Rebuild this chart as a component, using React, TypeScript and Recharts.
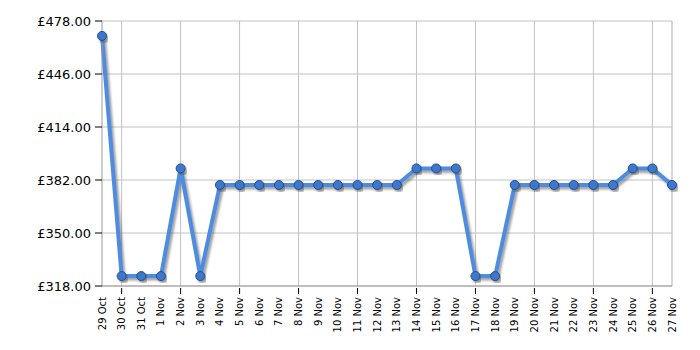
import { LineChart, Line, XAxis, YAxis, CartesianGrid, ReferenceLine } from 'recharts';

const dates = [
  '29 Oct', '30 Oct', '31 Oct', '1 Nov', '2 Nov', '3 Nov', '4 Nov', '5 Nov', '6 Nov', '7 Nov',
  '8 Nov', '9 Nov', '10 Nov', '11 Nov', '12 Nov', '13 Nov', '14 Nov', '15 Nov', '16 Nov', '17 Nov',
  '18 Nov', '19 Nov', '20 Nov', '21 Nov', '22 Nov', '23 Nov', '24 Nov', '25 Nov', '26 Nov', '27 Nov',
];

const prices = [
  469, 324, 324, 324, 389, 324, 379, 379, 379, 379,
  379, 379, 379, 379, 379, 379, 389, 389, 389, 324,
  324, 379, 379, 379, 379, 379, 379, 389, 389, 379,
];

const yTicks = [318, 350, 382, 414, 446, 478];

const data = dates.map((d, i) => ({ date: d, price: prices[i] }));

// vertical grid lines every third day, starting at 30 Oct
const gridDates = dates.filter((_, i) => i % 3 === 1);

const FONT = '"DejaVu Sans", Verdana, sans-serif';

function DateTick({ x, y, payload, index }: { x?: number; y?: number; payload?: { value: string }; index?: number }) {
  return (
    <g transform={`translate(${x},${y})`}>
      {index !== undefined && index % 3 === 1 && <line x1={0} x2={0} y1={0} y2={6} stroke="#000" />}
      <text
        transform="rotate(-90)"
        x={-9}
        y={0}
        dominantBaseline="central"
        textAnchor="end"
        fontSize={10}
        fontFamily={FONT}
        fill="#000"
      >
        {payload?.value}
      </text>
    </g>
  );
}

export default function App() {
  return (
    <div style={{ position: 'absolute', left: 0, top: 0, background: '#fff' }}>
      <LineChart width={700} height={350} data={data} margin={{ top: 21, right: 28, left: 0, bottom: 0 }}>
        <defs>
          <filter id="shadow" x="-10%" y="-10%" width="120%" height="130%">
            <feDropShadow dx={2} dy={2.5} stdDeviation={1.2} floodColor="#555" floodOpacity={0.55} />
          </filter>
        </defs>
        <CartesianGrid stroke="#c2c2c2" vertical={false} />
        {gridDates.map((d) => (
          <ReferenceLine key={d} x={d} stroke="#c2c2c2" />
        ))}
        <ReferenceLine x={dates[dates.length - 1]} stroke="#b0b0b0" />
        <XAxis
          dataKey="date"
          interval={0}
          height={64}
          tickLine={false}
          tickSize={0}
          axisLine={{ stroke: '#999' }}
          tick={<DateTick />}
        />
        <YAxis
          width={102}
          domain={[318, 478]}
          ticks={yTicks}
          tickFormatter={(v: number) => `£${v.toFixed(2)}`}
          tick={{ fill: '#000', fontSize: 13, fontFamily: FONT }}
          tickLine={{ stroke: '#000' }}
          tickSize={7}
          tickMargin={4}
          axisLine={{ stroke: '#999' }}
        />
        <Line
          type="linear"
          dataKey="price"
          stroke="#4e8ce0"
          strokeWidth={4}
          filter="url(#shadow)"
          dot={{ r: 4.5, fill: '#3d78cc', stroke: '#214f8c', strokeWidth: 1 }}
          isAnimationActive={false}
        />
      </LineChart>
    </div>
  );
}
